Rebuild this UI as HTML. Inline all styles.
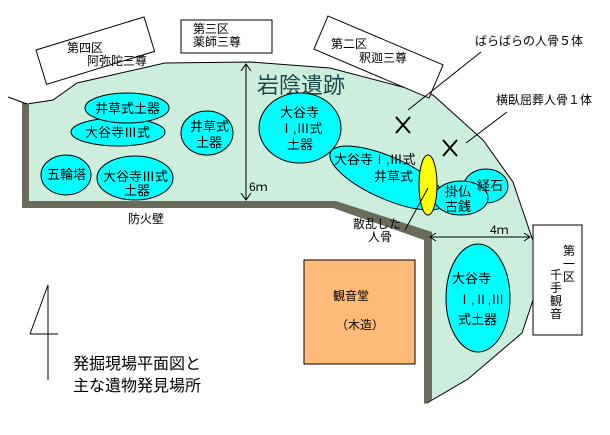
<!DOCTYPE html>
<html><head><meta charset="utf-8"><style>
body{margin:0;background:#fff}
svg text{font-family:"Liberation Sans","Noto Sans CJK JP",sans-serif;fill:#000}
</style></head><body>
<svg width="610" height="430" viewBox="0 0 610 430" xmlns="http://www.w3.org/2000/svg">
<polygon points="27,104 53,100 77,83 165,63 250,62 330,68 433,95 483,140 513,182 532,238 537,250 538,285 522,333 468,379 427,403 427,238 334,203 27,203" fill="#cdeedd" stroke="#000" stroke-width="1"/>
<polygon points="22,103 29,103 29,201 336,201 432,232 432,400 424,404 424,240 333,208 22,208" fill="#6b6b5b"/>
<line x1="8" y1="97" x2="27" y2="104" stroke="#000"/>
<g transform="translate(36,50) rotate(-17)"><rect x="0" y="0" width="113" height="36" fill="#fff" stroke="#000"/></g>
<text x="67" y="52" font-size="12">第四区</text><text x="87" y="65" font-size="12">阿弥陀三尊</text>
<rect x="181" y="20" width="91" height="33" fill="#fff" stroke="#000"/>
<text x="193" y="33" font-size="12">第三区</text><text x="193" y="46" font-size="12">薬師三尊</text>
<g transform="translate(328,16) rotate(23)"><rect x="0" y="0" width="125" height="36" fill="#fff" stroke="#000"/></g>
<text x="331" y="48" font-size="12">第二区</text><text x="359" y="62" font-size="12">釈迦三尊</text>
<rect x="533" y="225" width="49" height="110" fill="#fff" stroke="#000"/>
<text x="563" y="255" font-size="12">第</text><text x="563" y="268" font-size="12">一</text><text x="563" y="281" font-size="12">区</text>
<text x="550" y="279" font-size="12">千</text><text x="550" y="292" font-size="12">手</text><text x="550" y="305" font-size="12">観</text><text x="550" y="318" font-size="12">音</text>
<text x="257" y="93" font-size="22" style="fill:#1a4a4a">岩陰遺跡</text>
<line x1="246" y1="64" x2="246" y2="200" stroke="#000"/>
<polyline points="241,71 246,64 251,71" fill="none" stroke="#000"/>
<polyline points="241,193 246,200 251,193" fill="none" stroke="#000"/>
<text x="249" y="191" font-size="12">6ｍ</text>
<g fill="#00ffff" stroke="#000">
<ellipse cx="118" cy="132" rx="47" ry="14"/>
<ellipse cx="127" cy="108" rx="42" ry="15"/>
<ellipse cx="207" cy="133" rx="26" ry="22"/>
<ellipse cx="300" cy="128" rx="41" ry="35"/>
<ellipse cx="66" cy="175" rx="25" ry="20"/>
<ellipse cx="135" cy="178" rx="38" ry="22"/>
<ellipse cx="388" cy="178" rx="63" ry="21" transform="rotate(24 388 178)"/>
<ellipse cx="486" cy="186" rx="22" ry="17"/>
<ellipse cx="461" cy="198" rx="27" ry="17"/>
<ellipse cx="478" cy="298" rx="32" ry="54"/>
</g>
<ellipse cx="428" cy="185" rx="9" ry="30" fill="#ffff00" stroke="#000"/>
<g font-size="13">
<text x="95" y="113">井草式土器</text>
<text x="85" y="137">大谷寺Ⅲ式</text>
<text x="190" y="131">井草式</text><text x="196" y="147">土器</text>
<text x="280" y="117">大谷寺</text><text x="280" y="133">Ⅰ,Ⅲ式</text><text x="287" y="149">土器</text>
<text x="47" y="179">五輪塔</text>
<text x="103" y="181">大谷寺Ⅲ式</text><text x="124" y="195">土器</text>
<text x="334" y="164">大谷寺Ⅰ,Ⅲ式</text><text x="374" y="181">井草式</text>
<text x="477" y="190">経石</text>
<text x="445" y="196">掛仏</text><text x="445" y="211">古銭</text>
<text x="452" y="283">大谷寺</text><text x="458" y="304">Ⅰ,Ⅱ,Ⅲ</text><text x="458" y="324">式土器</text>
</g>
<g font-size="12">
<text x="128" y="223">防火壁</text>
<text x="353" y="228">散乱した</text><text x="368" y="241">人骨</text>
<text x="490" y="234">4ｍ</text>
<text x="475" y="45">ばらばらの人骨５体</text>
<text x="496" y="104">横臥屈葬人骨１体</text>
</g>
<line x1="430" y1="237" x2="530" y2="237" stroke="#000"/>
<polyline points="436,233 430,237 436,241" fill="none" stroke="#000"/>
<polyline points="524,233 530,237 524,241" fill="none" stroke="#000"/>
<g stroke="#000" stroke-width="1" fill="none">
<line x1="481" y1="52" x2="408" y2="110"/>
<line x1="507" y1="112" x2="466" y2="143"/>
<line x1="428" y1="188" x2="405" y2="230"/>
<line x1="396" y1="117" x2="410" y2="133" stroke-width="2"/><line x1="410" y1="117" x2="396" y2="133" stroke-width="2"/>
<line x1="443" y1="140" x2="457" y2="156" stroke-width="2"/><line x1="457" y1="140" x2="443" y2="156" stroke-width="2"/>
</g>
<rect x="304" y="260" width="111" height="104" fill="#ffbb77" stroke="#000"/>
<text x="333" y="300" font-size="12">観音堂</text>
<text x="336" y="329" font-size="12">（木造）</text>
<g stroke="#000" fill="none">
<line x1="48" y1="285" x2="48" y2="380"/>
<line x1="48" y1="285" x2="30" y2="334"/>
<line x1="30" y1="334" x2="58" y2="334"/>
</g>
<text x="73" y="369" font-size="16">発掘現場平面図と</text>
<text x="73" y="391" font-size="16">主な遺物発見場所</text>
</svg>
</body></html>
